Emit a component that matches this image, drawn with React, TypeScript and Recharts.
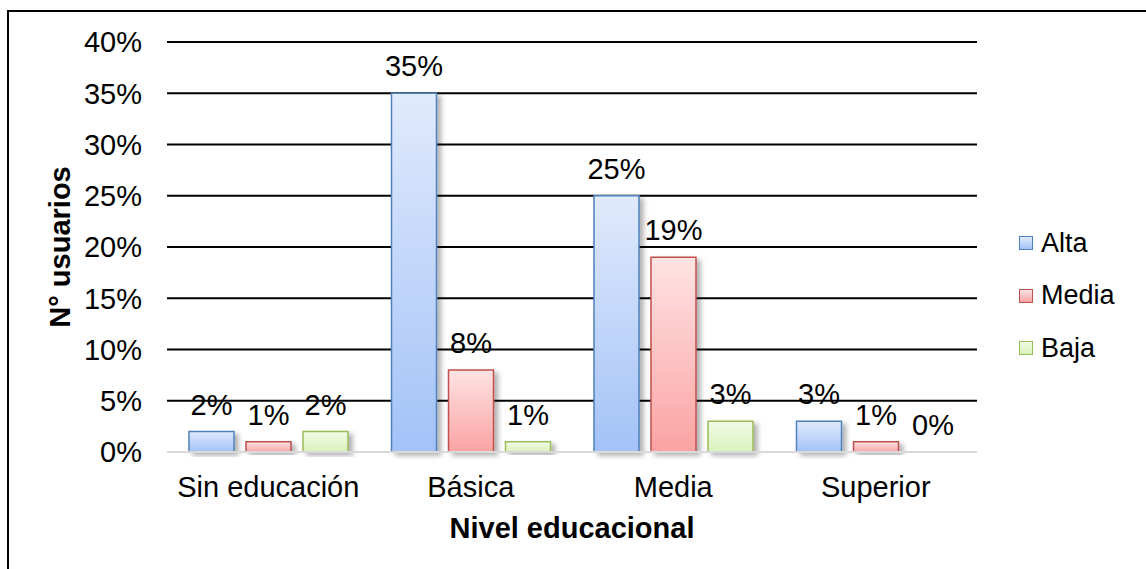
import React from 'react';
import { BarChart, Bar, XAxis, YAxis, CartesianGrid, Legend, LabelList, Label, Cell } from 'recharts';

const categories = ['Sin educación', 'Básica', 'Media', 'Superior'];
const alta = [2, 35, 25, 3];
const media = [1, 8, 19, 1];
const baja = [2, 1, 3, 0];
const yTicks = [0, 5, 10, 15, 20, 25, 30, 35, 40];
const seriesNames = ['Alta', 'Media', 'Baja'];
const seriesValues: Record<string, number[]> = { Alta: alta, Media: media, Baja: baja };

const data = categories.map((c, i) => ({ name: c, Alta: alta[i], Media: media[i], Baja: baja[i] }));

const FONT = '"Liberation Sans", Arial, sans-serif';
const FS = 29;
const seriesStyle: Record<string, { stroke: string; top: string; bottom: string; id: string }> = {
  Alta: { stroke: '#4f81bd', top: '#e0eafc', bottom: '#a3c2f7', id: 'gAlta' },
  Media: { stroke: '#c0504d', top: '#ffe3e3', bottom: '#fba3a3', id: 'gMedia' },
  Baja: { stroke: '#9bbb59', top: '#f2fbe6', bottom: '#d9f2bb', id: 'gBaja' },
};

const pct = (v: any) => `${v}%`;

const LegendContent = () => (
  <div style={{ fontFamily: FONT, fontSize: 27, color: '#000' }}>
    {seriesNames.map((n) => {
      const s = seriesStyle[n];
      return (
        <div key={n} style={{ height: 52.5, display: 'flex', alignItems: 'center' }}>
          <div
            style={{
              width: 12,
              height: 12,
              border: `1.5px solid ${s.stroke}`,
              background: `linear-gradient(${s.top}, ${s.bottom})`,
              marginRight: 8,
            }}
          />
          <span>{n}</span>
        </div>
      );
    })}
  </div>
);

export default function App() {
  return (
    <div style={{ position: 'absolute', left: 0, top: 0, width: 1146, height: 569, background: '#fff', overflow: 'hidden' }}>
      <div
        style={{
          position: 'absolute',
          left: 7,
          top: 10,
          width: 1200,
          height: 600,
          borderLeft: '2px solid #000',
          borderTop: '2px solid #000',
        }}
      />
      <div style={{ position: 'absolute', left: 0, top: 0 }}>
        <BarChart
          width={1146}
          height={569}
          data={data}
          margin={{ top: 42, right: 169, bottom: 0, left: 0 }}
          barSize={45}
          barGap={12}
        >
          <defs>
            {seriesNames.map((n) => (
              <linearGradient key={n} id={seriesStyle[n].id} x1="0" y1="0" x2="0" y2="1">
                <stop offset="0%" stopColor={seriesStyle[n].top} />
                <stop offset="100%" stopColor={seriesStyle[n].bottom} />
              </linearGradient>
            ))}
            <filter id="shadow" x="-20%" y="-20%" width="160%" height="140%">
              <feDropShadow dx="4" dy="3" stdDeviation="2.5" floodColor="#000" floodOpacity="0.3" />
            </filter>
          </defs>
          <CartesianGrid
            vertical={false}
            stroke="#000"
            strokeWidth={2}
            horizontalValues={[5, 10, 15, 20, 25, 30, 35, 40]}
          />
          <XAxis
            dataKey="name"
            height={117}
            tickLine={false}
            tickSize={0}
            tickMargin={24}
            axisLine={{ stroke: '#d9d9d9', strokeWidth: 2 }}
            tick={{ fill: '#000', fontSize: FS, fontFamily: FONT }}
            interval={0}
          >
            <Label
              content={(props: any) => {
                const vb = props.viewBox || {};
                return (
                  <text
                    x={vb.x + vb.width / 2}
                    y={vb.y + 86}
                    textAnchor="middle"
                    fontFamily={FONT}
                    fontSize={FS}
                    fontWeight="bold"
                    fill="#000"
                  >
                    Nivel educacional
                  </text>
                );
              }}
            />
          </XAxis>
          <YAxis
            width={167}
            domain={[0, 40]}
            ticks={yTicks}
            tickFormatter={pct}
            tickLine={false}
            axisLine={false}
            tickSize={0}
            tickMargin={25}
            tick={{ fill: '#000', fontSize: FS, fontFamily: FONT }}
            interval={0}
          >
            <Label
              content={(props: any) => {
                const vb = props.viewBox || {};
                const cx = 60;
                const cy = vb.y + vb.height / 2;
                return (
                  <text
                    x={cx}
                    y={cy}
                    transform={`rotate(-90 ${cx} ${cy})`}
                    textAnchor="middle"
                    dominantBaseline="central"
                    fontFamily={FONT}
                    fontSize={FS}
                    fontWeight="bold"
                    fill="#000"
                  >
                    N° usuarios
                  </text>
                );
              }}
            />
          </YAxis>
          <Legend
            layout="vertical"
            align="center"
            verticalAlign="middle"
            wrapperStyle={{ left: 1019, top: 217, width: 127 }}
            content={() => <LegendContent />}
          />
          {seriesNames.map((n) => (
            <Bar
              key={n}
              dataKey={n}
              fill={`url(#${seriesStyle[n].id})`}
              stroke={seriesStyle[n].stroke}
              strokeWidth={1.5}
              isAnimationActive={false}
              minPointSize={(v: any) => (v === 0 ? 0.01 : 0)}
              style={{ filter: 'url(#shadow)' }}
            >
              {seriesValues[n].map((v, i) => (
                <Cell
                  key={i}
                  fill={v === 0 ? 'none' : `url(#${seriesStyle[n].id})`}
                  stroke={v === 0 ? 'none' : seriesStyle[n].stroke}
                />
              ))}
              <LabelList
                dataKey={n}
                position="top"
                offset={17}
                formatter={pct}
                fill="#000"
                fontSize={FS}
                fontFamily={FONT}
              />
            </Bar>
          ))}
        </BarChart>
      </div>
    </div>
  );
}
